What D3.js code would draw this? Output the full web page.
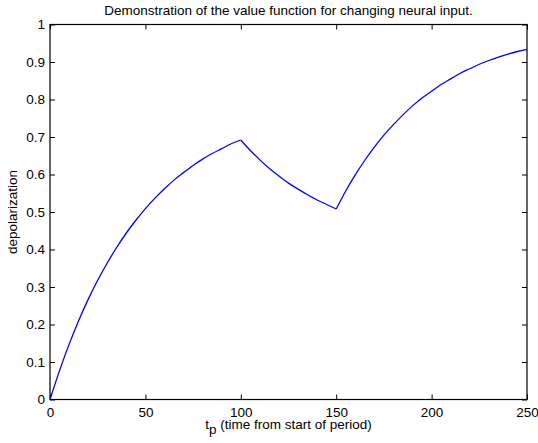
<!DOCTYPE html>
<html>
<head>
<meta charset="utf-8">
<script src="https://cdn.jsdelivr.net/npm/d3@7"></script>
<style>
body { margin: 0; background: #fff; }
text { font-family: "Liberation Sans", Arial, Helvetica, sans-serif; }
</style>
</head>
<body>
<div id="canvas"></div>
<script>
// ----------------------------------------------------------
// DATA -----------------------------------------------------
// ----------------------------------------------------------
var time_values = [0, 5, 10, 15, 20, 25, 30, 35, 40, 45, 50, 55, 60, 65, 70, 75, 80, 85, 90, 95, 100,
  105, 110, 115, 120, 125, 130, 135, 140, 145, 150,
  155, 160, 165, 170, 175, 180, 185, 190, 195, 200, 205, 210, 215, 220, 225, 230, 235, 240, 245, 250];
var depol_values = [0, 0.077, 0.147, 0.210, 0.267, 0.318, 0.364, 0.406, 0.444, 0.478, 0.509, 0.537, 0.562, 0.585, 0.605, 0.624, 0.641, 0.656, 0.669, 0.682, 0.692,
  0.664, 0.639, 0.616, 0.596, 0.577, 0.561, 0.546, 0.532, 0.520, 0.508,
  0.556, 0.599, 0.638, 0.673, 0.705, 0.733, 0.759, 0.783, 0.804, 0.822, 0.840, 0.855, 0.870, 0.882, 0.894, 0.904, 0.913, 0.921, 0.928, 0.934];
var x_ticks = [0, 50, 100, 150, 200, 250];
var y_ticks = [0, 0.1, 0.2, 0.3, 0.4, 0.5, 0.6, 0.7, 0.8, 0.9, 1];

var text_title = "Demonstration of the value function for changing neural input.";
var text_ylabel = "depolarization";

// ----------------------------------------------------------
// STRUCTURE ------------------------------------------------
// ----------------------------------------------------------
var width = 538, height = 443;
var plot = { left: 50, right: 527, top: 24.5, bottom: 399.5 };

var svg = d3.select("#canvas").append("svg")
  .attr("width", width)
  .attr("height", height)
  .style("background-color", "#fff");

var xScale = d3.scaleLinear().domain([0, 250]).range([plot.left, plot.right]);
var yScale = d3.scaleLinear().domain([0, 1]).range([plot.bottom, plot.top]);

// ----------------------------------------------------------
// AXES -----------------------------------------------------
// ----------------------------------------------------------
function styleAxis(g, showLabels) {
  g.select(".domain").remove();
  g.selectAll(".tick line").attr("stroke", "#000").attr("stroke-width", 1);
  if (showLabels) {
    g.selectAll(".tick text").attr("fill", "#000").style("font-size", "13.5px");
  } else {
    g.selectAll(".tick text").remove();
  }
}

svg.append("g")
  .attr("transform", "translate(0," + plot.bottom + ")")
  .call(d3.axisBottom(xScale).tickValues(x_ticks).tickSize(-5).tickPadding(8).tickFormat(d3.format("d")))
  .call(function(g) { styleAxis(g, true); });

svg.append("g")
  .attr("transform", "translate(0," + plot.top + ")")
  .call(d3.axisTop(xScale).tickValues(x_ticks).tickSize(-5))
  .call(function(g) { styleAxis(g, false); });

svg.append("g")
  .attr("transform", "translate(" + plot.left + ",0)")
  .call(d3.axisLeft(yScale).tickValues(y_ticks).tickSize(-5).tickPadding(5).tickFormat(function(d) { return d3.format("")(+d.toFixed(1)); }))
  .call(function(g) { styleAxis(g, true); });

svg.append("g")
  .attr("transform", "translate(" + plot.right + ",0)")
  .call(d3.axisRight(yScale).tickValues(y_ticks).tickSize(-5))
  .call(function(g) { styleAxis(g, false); });

// box
svg.append("rect")
  .attr("x", plot.left)
  .attr("y", plot.top)
  .attr("width", plot.right - plot.left)
  .attr("height", plot.bottom - plot.top)
  .attr("fill", "none")
  .attr("stroke", "#000")
  .attr("stroke-width", 1.2);

// ----------------------------------------------------------
// GFX ------------------------------------------------------
// ----------------------------------------------------------
var line = d3.line()
  .x(function(d, i) { return xScale(time_values[i]); })
  .y(function(d) { return yScale(d); })
  .curve(d3.curveMonotoneX);

// split at the two kinks so they stay sharp
[[0, 20], [20, 30], [30, 50]].forEach(function(seg) {
  var idx = d3.range(seg[0], seg[1] + 1);
  svg.append("path")
    .datum(idx)
    .attr("d", d3.line()
      .x(function(i) { return xScale(time_values[i]); })
      .y(function(i) { return yScale(depol_values[i]); })
      .curve(d3.curveMonotoneX))
    .attr("fill", "none")
    .attr("stroke", "#0000ff")
    .attr("stroke-width", 1.3);
});

// ----------------------------------------------------------
// TEXT -----------------------------------------------------
// ----------------------------------------------------------
svg.append("text")
  .attr("x", (plot.left + plot.right) / 2)
  .attr("y", 14.5)
  .attr("text-anchor", "middle")
  .style("font-size", "13.5px")
  .text(text_title);

var xlabel = svg.append("text")
  .attr("x", (plot.left + plot.right) / 2)
  .attr("y", 428.5)
  .attr("text-anchor", "middle")
  .style("font-size", "13.5px");
xlabel.append("tspan").text("t");
xlabel.append("tspan").attr("dy", 5).style("font-size", "13.5px").text("p");
xlabel.append("tspan").attr("dy", -5).text(" (time from start of period)");

svg.append("text")
  .attr("transform", "translate(17," + (plot.top + plot.bottom) / 2 + ") rotate(-90)")
  .attr("text-anchor", "middle")
  .style("font-size", "13.5px")
  .text(text_ylabel);
</script>
</body>
</html>
